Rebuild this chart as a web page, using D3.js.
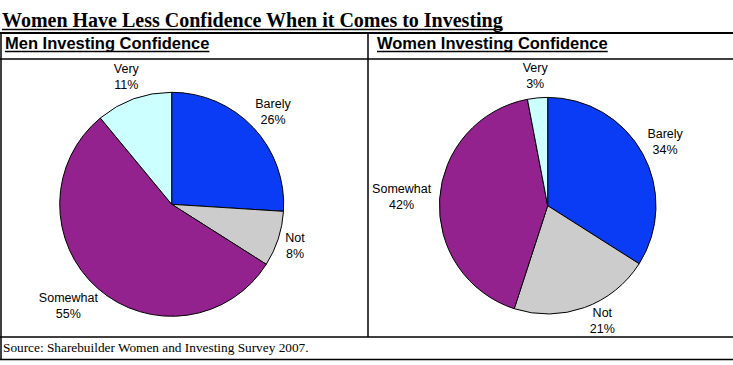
<!DOCTYPE html>
<html><head><meta charset="utf-8">
<script src="https://cdn.jsdelivr.net/npm/d3@7"></script>
<style>body{margin:0;background:#fff}svg{display:block}</style>
</head><body>
<script>
const categories = ["Barely", "Not", "Somewhat", "Very"];
const menValues = [26, 8, 55, 11];
const womenValues = [34, 21, 42, 3];
const colors = ["#0a3cf5", "#cccccc", "#93218e", "#ccffff"];
const title = "Women Have Less Confidence When it Comes to Investing";
const panelTitles = ["Men Investing Confidence", "Women Investing Confidence"];
const source = "Source: Sharebuilder Women and Investing Survey 2007.";

const W = 733, H = 365;
const panelTop = 59, panelBottom = 337;
const svg = d3.select("body").append("svg").attr("width", W).attr("height", H);

function underlined(x, y, text, font, size, weight) {
  const t = svg.append("text").attr("x", x).attr("y", y)
    .attr("font-family", font).attr("font-size", size).attr("font-weight", weight)
    .attr("fill", "#000").text(text);
  const w = t.node().getComputedTextLength();
  svg.append("line").attr("x1", x).attr("x2", x + w).attr("y1", y + 2.5).attr("y2", y + 2.5)
    .attr("stroke", "#000").attr("stroke-width", 1.5);
}

underlined(2, 27, title, "Liberation Serif, Times New Roman, serif", 20, "bold");

// frame
const line = (x1, y1, x2, y2, w) => svg.append("line").attr("x1", x1).attr("y1", y1)
  .attr("x2", x2).attr("y2", y2).attr("stroke", "#000").attr("stroke-width", w);
line(0, 33, W, 33, 2);
line(0, panelTop, W, panelTop, 1.5);
line(0, panelBottom, W, panelBottom, 1.5);
line(0, 359.5, W, 359.5, 1.5);
line(1, 33, 1, 360, 1.5);
line(368, 33, 368, panelBottom, 1.5);

underlined(5, 49, panelTitles[0], "Liberation Sans, Arial, sans-serif", 16.5, "bold");
underlined(377, 49, panelTitles[1], "Liberation Sans, Arial, sans-serif", 16.5, "bold");

svg.append("text").attr("x", 3).attr("y", 352)
  .attr("font-family", "Liberation Serif, Times New Roman, serif").attr("font-size", 13.3)
  .text(source);

const pie = d3.pie().sort(null).value(d => d);

function drawPie(values, cx, cy, r) {
  const g = svg.append("g").attr("transform", `translate(${cx},${cy})`);
  const arcs = pie(values);
  const arc = d3.arc().innerRadius(0).outerRadius(r);
  g.selectAll("path").data(arcs).join("path")
    .attr("d", arc).attr("fill", (d, i) => colors[i])
    .attr("stroke", "#000").attr("stroke-width", 1);
  const pad = 8;
  arcs.forEach((d, i) => {
    const a = (d.startAngle + d.endAngle) / 2;
    const lg = g.append("g");
    const t = lg.append("text").attr("text-anchor", "middle")
      .attr("font-family", "Liberation Sans, Arial, sans-serif").attr("font-size", 12.5).attr("fill", "#000");
    t.append("tspan").attr("x", 0).attr("dy", 0).text(categories[i]);
    t.append("tspan").attr("x", 0).attr("dy", 16).text(values[i] + "%");
    const bb = t.node().getBBox();
    const hw = bb.width / 2, hh = bb.height / 2;
    const ux = Math.sin(a), uy = -Math.cos(a);
    let lx = (r + pad) * ux + hw * ux;
    let ly = (r + pad) * uy + hh * uy;
    // keep the label inside its panel
    const maxY = panelBottom - 1 - cy - hh;
    const minY = panelTop + 2 - cy + hh;
    ly = Math.max(minY, Math.min(maxY, ly));
    // push sideways until the label box clears the pie
    const dist = () => {
      const nx = Math.max(Math.abs(lx) - hw, 0), ny = Math.max(Math.abs(ly) - hh + 4, 0);
      return Math.hypot(nx, ny);
    };
    let guard = 0;
    while (dist() < r + 4 && guard++ < 200) lx += Math.sign(ux || 1);
    lg.attr("transform", `translate(${lx - (bb.x + hw)},${ly - (bb.y + hh)})`);
  });
}

drawPie(menValues, 171.7, 204.3, 112);
drawPie(womenValues, 547.7, 205.7, 108.3);
</script>
</body></html>
